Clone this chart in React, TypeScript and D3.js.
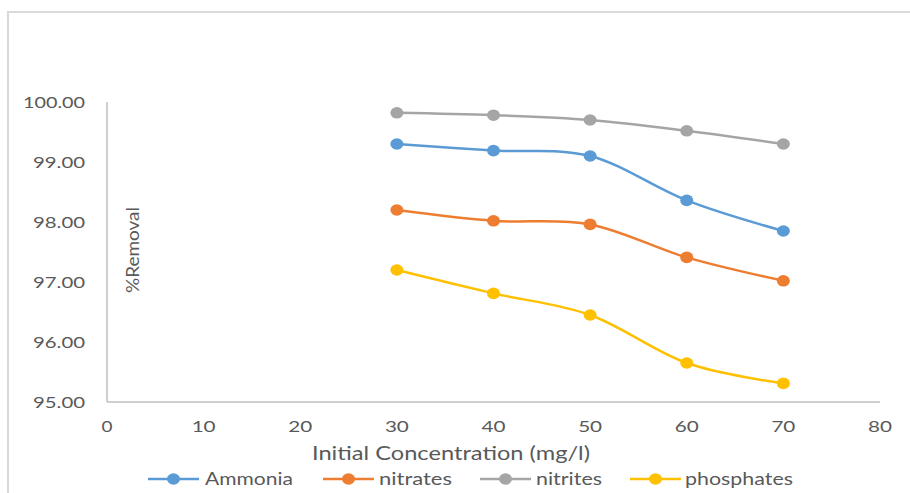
import React from "react";
import * as d3 from "d3";

// Initial concentration (mg/l)
const concentrations = [30, 40, 50, 60, 70];

// % removal per pollutant
const ammonia = [99.3, 99.19, 99.1, 98.36, 97.85];
const nitrates = [98.2, 98.02, 97.96, 97.41, 97.02];
const nitrites = [99.82, 99.78, 99.7, 99.52, 99.3];
const phosphates = [97.2, 96.81, 96.45, 95.65, 95.31];

const seriesNames = ["Ammonia", "nitrates", "nitrites", "phosphates"];
const seriesColors = ["#5B9BD5", "#ED7D31", "#A5A5A5", "#FFC000"];

const xTicks = [0, 10, 20, 30, 40, 50, 60, 70, 80];
const yTicks = [95, 96, 97, 98, 99, 100];

const xTitle = "Initial Concentration (mg/l)";
const yTitle = "%Removal";

const W = 910;
const H = 493;
const FONT = "Lato, 'Open Sans', sans-serif";
const TEXT = "#595959";

export default function App() {
  const x = d3.scaleLinear().domain([0, 80]).range([107, 880]);
  const y = d3.scaleLinear().domain([95, 100]).range([402, 102]);

  const allSeries = [ammonia, nitrates, nitrites, phosphates];

  const line = d3
    .line<[number, number]>()
    .x((d) => x(d[0]))
    .y((d) => y(d[1]))
    .curve(d3.curveCardinal.tension(0));

  // legend entry layout: swatch start, label start, label width
  const legendItems = [
    { lineX: 148, textX: 205, w: 88 },
    { lineX: 323, textX: 379, w: 73 },
    { lineX: 480, textX: 536, w: 66 },
    { lineX: 630, textX: 685, w: 108 },
  ];

  return (
    <svg
      width={W}
      height={H}
      style={{ position: "absolute", left: 0, top: 0, display: "block", background: "#fff" }}
    >
      {/* chart area frame */}
      <path d={`M8,${H} V12 H${W}`} fill="none" stroke="#d9d9d9" strokeWidth={2} />

      {/* axes */}
      <line x1={x(0)} x2={x(0)} y1={y(100)} y2={y(95)} stroke="#bfbfbf" strokeWidth={1.5} />
      <line x1={x(0)} x2={x(80)} y1={y(95)} y2={y(95)} stroke="#bfbfbf" strokeWidth={1.5} />

      {/* y tick labels */}
      {yTicks.map((t) => {
        const label = t.toFixed(2);
        return (
          <text
            key={t}
            x={85}
            y={y(t) + 6}
            textAnchor="end"
            fontFamily={FONT}
            fontSize={16}
            fill={TEXT}
            textLength={label.length === 6 ? 62 : 52}
            lengthAdjust="spacingAndGlyphs"
          >
            {label}
          </text>
        );
      })}

      {/* x tick labels */}
      {xTicks.map((t) => {
        const label = String(t);
        return (
          <text
            key={t}
            x={x(t)}
            y={432}
            textAnchor="middle"
            fontFamily={FONT}
            fontSize={16}
            fill={TEXT}
            textLength={label.length === 1 ? 11 : 24}
            lengthAdjust="spacingAndGlyphs"
          >
            {label}
          </text>
        );
      })}

      {/* axis titles */}
      <text
        x={451}
        y={460}
        textAnchor="middle"
        fontFamily={FONT}
        fontSize={19}
        fill={TEXT}
        textLength={278}
        lengthAdjust="spacingAndGlyphs"
      >
        {xTitle}
      </text>
      <text
        transform={`translate(139,250) rotate(-90)`}
        textAnchor="middle"
        fontFamily={FONT}
        fontSize={17}
        fill={TEXT}
        textLength={86}
        lengthAdjust="spacingAndGlyphs"
      >
        {yTitle}
      </text>

      {/* series */}
      {allSeries.map((vals, i) => {
        const pts = concentrations.map((c, j) => [c, vals[j]] as [number, number]);
        return (
          <g key={seriesNames[i]}>
            <path d={line(pts) || ""} fill="none" stroke={seriesColors[i]} strokeWidth={2.5} />
            {pts.map((p, j) => (
              <ellipse key={j} cx={x(p[0])} cy={y(p[1])} rx={6.5} ry={5.8} fill={seriesColors[i]} />
            ))}
          </g>
        );
      })}

      {/* legend */}
      {legendItems.map((it, i) => (
        <g key={seriesNames[i]}>
          <line x1={it.lineX} x2={it.lineX + 51} y1={479} y2={479} stroke={seriesColors[i]} strokeWidth={2.5} />
          <ellipse cx={it.lineX + 25.5} cy={479} rx={6.5} ry={5.8} fill={seriesColors[i]} />
          <text
            x={it.textX}
            y={485}
            fontFamily={FONT}
            fontSize={17}
            fill={TEXT}
            textLength={it.w}
            lengthAdjust="spacingAndGlyphs"
          >
            {seriesNames[i]}
          </text>
        </g>
      ))}
    </svg>
  );
}
